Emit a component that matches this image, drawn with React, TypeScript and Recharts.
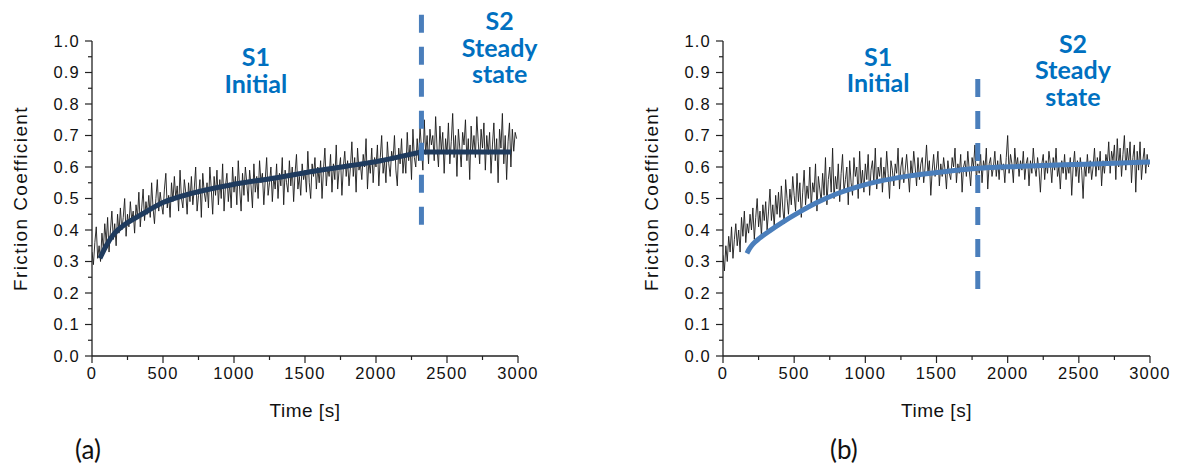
import React from 'react';
import { LineChart, Line, XAxis, YAxis, ReferenceLine, ReferenceDot } from 'recharts';

// sampling step of the raw friction traces [s]
const STEP = 10;

// (a) raw friction coefficient, one value every 10 s from t = 0
const rawA = [
  0.33, 0.29, 0.36, 0.41, 0.31, 0.35, 0.30, 0.39, 0.34, 0.42,
  0.36, 0.44, 0.33, 0.40, 0.46, 0.37, 0.42, 0.35, 0.45, 0.39,
  0.47, 0.40, 0.44, 0.50, 0.38, 0.45, 0.41, 0.49, 0.43, 0.46,
  0.39, 0.48, 0.44, 0.52, 0.41, 0.47, 0.53, 0.43, 0.49, 0.45,
  0.51, 0.44, 0.55, 0.47, 0.42, 0.50, 0.56, 0.46, 0.52, 0.48,
  0.45, 0.53, 0.58, 0.47, 0.51, 0.44, 0.55, 0.49, 0.57, 0.50,
  0.54, 0.46, 0.59, 0.50, 0.47, 0.56, 0.52, 0.45, 0.55, 0.49,
  0.57, 0.48, 0.53, 0.60, 0.46, 0.51, 0.56, 0.44, 0.58, 0.52,
  0.49, 0.55, 0.47, 0.60, 0.53, 0.45, 0.57, 0.51, 0.59, 0.48,
  0.56, 0.50, 0.61, 0.46, 0.54, 0.58, 0.49, 0.55, 0.47, 0.60,
  0.52, 0.57, 0.48, 0.62, 0.53, 0.46, 0.58, 0.51, 0.60, 0.55,
  0.49, 0.59, 0.54, 0.47, 0.61, 0.52, 0.57, 0.50, 0.62, 0.55,
  0.58, 0.48, 0.56, 0.63, 0.51, 0.55, 0.60, 0.49, 0.57, 0.53,
  0.61, 0.50, 0.58, 0.54, 0.63, 0.48, 0.59, 0.55, 0.52, 0.62,
  0.54, 0.60, 0.49, 0.58, 0.64, 0.53, 0.57, 0.51, 0.61, 0.56,
  0.59, 0.52, 0.65, 0.55, 0.50, 0.61, 0.57, 0.63, 0.53, 0.60,
  0.55, 0.62, 0.50, 0.59, 0.66, 0.54, 0.60, 0.57, 0.64, 0.52,
  0.61, 0.56, 0.67, 0.53, 0.59, 0.63, 0.51, 0.60, 0.65, 0.57,
  0.62, 0.54, 0.60, 0.68, 0.57, 0.63, 0.52, 0.66, 0.59, 0.61,
  0.56, 0.64, 0.60, 0.69, 0.53, 0.62, 0.58, 0.66, 0.55, 0.63,
  0.60, 0.67, 0.54, 0.63, 0.70, 0.58, 0.62, 0.55, 0.68, 0.61,
  0.57, 0.65, 0.62, 0.70, 0.59, 0.54, 0.66, 0.61, 0.69, 0.58,
  0.64, 0.58, 0.71, 0.62, 0.67, 0.56, 0.72, 0.63, 0.60, 0.69,
  0.62, 0.73, 0.66, 0.59, 0.75, 0.64, 0.70, 0.61, 0.72, 0.67,
  0.70, 0.62, 0.76, 0.66, 0.60, 0.73, 0.65, 0.71, 0.58, 0.69,
  0.64, 0.74, 0.61, 0.68, 0.77, 0.63, 0.70, 0.57, 0.72, 0.66,
  0.60, 0.71, 0.67, 0.75, 0.62, 0.69, 0.56, 0.73, 0.65, 0.70,
  0.63, 0.76, 0.68, 0.61, 0.72, 0.66, 0.74, 0.59, 0.70, 0.64,
  0.71, 0.58, 0.67, 0.74, 0.62, 0.69, 0.55, 0.72, 0.66, 0.77,
  0.61, 0.70, 0.56, 0.68, 0.74, 0.60, 0.72, 0.65, 0.71, 0.69,
];

// (b) raw friction coefficient, one value every 10 s from t = 0
const rawB = [
  0.32, 0.27, 0.35, 0.30, 0.38, 0.33, 0.41, 0.31, 0.37, 0.42,
  0.35, 0.40, 0.33, 0.44, 0.38, 0.46, 0.36, 0.42, 0.39, 0.45,
  0.40, 0.47, 0.37, 0.44, 0.50, 0.41, 0.46, 0.38, 0.48, 0.43,
  0.49, 0.40, 0.46, 0.53, 0.43, 0.48, 0.41, 0.51, 0.45, 0.52,
  0.44, 0.54, 0.47, 0.42, 0.56, 0.50, 0.45, 0.53, 0.48, 0.57,
  0.51, 0.46, 0.58, 0.49, 0.55, 0.44, 0.52, 0.59, 0.48, 0.54,
  0.50, 0.60, 0.47, 0.55, 0.52, 0.61, 0.46, 0.57, 0.53, 0.49,
  0.58, 0.51, 0.63, 0.48, 0.56, 0.60, 0.52, 0.66, 0.50, 0.57,
  0.53, 0.61, 0.49, 0.58, 0.64, 0.52, 0.56, 0.60, 0.48, 0.62,
  0.55, 0.51, 0.63, 0.57, 0.60, 0.50, 0.65, 0.54, 0.59, 0.52,
  0.61, 0.56, 0.64, 0.51, 0.59, 0.62, 0.55, 0.66, 0.53, 0.60,
  0.57, 0.63, 0.52, 0.60, 0.56, 0.65, 0.58, 0.50, 0.62, 0.59,
  0.54, 0.61, 0.58, 0.66, 0.53, 0.60, 0.63, 0.55, 0.59, 0.64,
  0.58, 0.52, 0.62, 0.57, 0.65, 0.60, 0.54, 0.63, 0.56, 0.61,
  0.63, 0.55, 0.60, 0.67, 0.58, 0.62, 0.51, 0.59, 0.64, 0.57,
  0.60, 0.65, 0.54, 0.61, 0.57, 0.63, 0.59, 0.53, 0.62, 0.58,
  0.56, 0.63, 0.60, 0.66, 0.55, 0.61, 0.58, 0.64, 0.52, 0.60,
  0.62, 0.57, 0.65, 0.59, 0.54, 0.63, 0.60, 0.67, 0.56, 0.61,
  0.58, 0.64, 0.55, 0.62, 0.59, 0.66, 0.53, 0.61, 0.63, 0.57,
  0.60, 0.65, 0.57, 0.62, 0.56, 0.64, 0.59, 0.61, 0.55, 0.63,
  0.70, 0.58, 0.64, 0.61, 0.55, 0.66, 0.60, 0.63, 0.57, 0.62,
  0.59, 0.65, 0.56, 0.61, 0.63, 0.54, 0.62, 0.58, 0.66, 0.60,
  0.57, 0.63, 0.59, 0.52, 0.61, 0.64, 0.56, 0.62, 0.58, 0.65,
  0.61, 0.55, 0.63, 0.59, 0.66, 0.57, 0.60, 0.53, 0.62, 0.58,
  0.64, 0.56, 0.61, 0.58, 0.63, 0.51, 0.60, 0.65, 0.57, 0.62,
  0.55, 0.63, 0.59, 0.50, 0.61, 0.57, 0.64, 0.58, 0.62, 0.56,
  0.60, 0.66, 0.57, 0.63, 0.59, 0.65, 0.54, 0.62, 0.58, 0.64,
  0.61, 0.68, 0.58, 0.65, 0.62, 0.67, 0.56, 0.69, 0.60, 0.66,
  0.57, 0.64, 0.70, 0.59, 0.66, 0.61, 0.68, 0.55, 0.63, 0.67,
  0.52, 0.65, 0.59, 0.68, 0.56, 0.62, 0.66, 0.58, 0.64, 0.60,
];

// fitted trend curves [time s, coefficient]
const fitA: [number, number][] = [
  [56, 0.31], [100, 0.35], [150, 0.385], [200, 0.407], [260, 0.426], [340, 0.447],
  [500, 0.487], [700, 0.516], [1000, 0.545], [1300, 0.566], [1500, 0.582],
  [1800, 0.603], [2000, 0.617], [2160, 0.632], [2320, 0.648],
];
const fitAFlat: [number, number][] = [[2320, 0.648], [2950, 0.648]];
const fitB: [number, number][] = [
  [168, 0.326], [185, 0.34], [210, 0.355], [260, 0.375], [330, 0.398], [420, 0.425],
  [530, 0.455], [660, 0.487], [800, 0.515], [950, 0.538], [1100, 0.555], [1300, 0.571],
  [1550, 0.585], [1800, 0.596], [2100, 0.602], [2400, 0.607], [2700, 0.611], [3000, 0.616],
];

// stage boundary: [time, dash top, dash bottom]
const boundaryA = [2320, 1.083, 0.407];
const boundaryB = [1790, 0.879, 0.2];

// stage labels: [time, y of first line, text lines]
const stagesA: [number, number, string[]][] = [
  [1154, 0.949, ['S1', 'Initial']],
  [2871, 1.063, ['S2', 'Steady', 'state']],
];
const stagesB: [number, number, string[]][] = [
  [1090, 0.95, ['S1', 'Initial']],
  [2459, 0.992, ['S2', 'Steady', 'state']],
];

const xTicks = [0, 250, 500, 750, 1000, 1250, 1500, 1750, 2000, 2250, 2500, 2750, 3000];
const yTicks = [0, 0.05, 0.1, 0.15, 0.2, 0.25, 0.3, 0.35, 0.4, 0.45, 0.5, 0.55, 0.6, 0.65, 0.7, 0.75, 0.8, 0.85, 0.9, 0.95, 1.0];

const FONT = '"Liberation Sans", Arial, sans-serif';
const TICK_SIZE = 7;
const TICK_GAP = 5;

function YTick(props: any) {
  const { x, y, payload } = props;
  const v = payload.value;
  const major = Math.abs(v * 10 - Math.round(v * 10)) < 1e-6;
  const ax = x + TICK_SIZE + TICK_GAP;
  return (
    <g>
      <line x1={ax - (major ? TICK_SIZE : 4)} x2={ax} y1={y} y2={y} stroke="#222" strokeWidth={1.2} />
      {major && (
        <text x={x} y={y} dy="0.355em" textAnchor="end" fontFamily={FONT} fontSize={16.5} letterSpacing={1.2} fill="#111">
          {v.toFixed(1)}
        </text>
      )}
    </g>
  );
}

function XTick(props: any) {
  const { x, y, payload } = props;
  const v = payload.value;
  const major = v % 500 === 0;
  const ay = y - TICK_SIZE - 4;
  return (
    <g>
      <line x1={x} x2={x} y1={ay} y2={ay + (major ? TICK_SIZE : 4)} stroke="#222" strokeWidth={1.2} />
      {major && (
        <text x={x} y={y} dy="0.71em" textAnchor="middle" fontFamily={FONT} fontSize={16.5} letterSpacing={1.2} fill="#111">
          {v}
        </text>
      )}
    </g>
  );
}

function StageLabel(props: any) {
  const { viewBox, lines } = props;
  const cx = viewBox.x + viewBox.width / 2;
  const cy = viewBox.y + viewBox.height / 2;
  return (
    <text textAnchor="middle" fill="#0070C0" fontFamily="Lato, 'Open Sans', sans-serif" fontWeight="bold" fontSize={25}>
      {lines.map((l: string, i: number) => (
        <tspan key={i} x={cx} y={cy + i * 26.5} dy="0.36em">{l}</tspan>
      ))}
    </text>
  );
}

interface PanelProps {
  raw: number[];
  fits: [number, number][][];
  fitColor: string;
  boundary: number[];
  stages: [number, number, string[]][];
  marginLeft: number;
  marginRight: number;
}

function Panel({ raw, fits, fitColor, boundary, stages, marginLeft, marginRight }: PanelProps) {
  const rawData = raw.map((v, i) => ({ t: i * STEP, v }));
  return (
    <LineChart width={589} height={467} margin={{ top: 41, right: marginRight, bottom: 81, left: marginLeft }}>
      <XAxis
        type="number"
        dataKey="t"
        domain={[0, 3000]}
        ticks={xTicks}
        interval={0}
        allowDataOverflow
        height={30}
        tickSize={TICK_SIZE}
        tickMargin={4}
        tickLine={false}
        tick={<XTick />}
        axisLine={{ stroke: '#222', strokeWidth: 1.3 }}
        label={{
          content: ({ viewBox }: any) => (
            <text
              x={viewBox.x + viewBox.width / 2}
              y={viewBox.y + 54}
              dy="0.36em"
              textAnchor="middle"
              fontFamily={FONT}
              fontSize={19}
              letterSpacing={0.5}
              fill="#111"
            >
              Time [s]
            </text>
          ),
        }}
      />
      <YAxis
        type="number"
        domain={[0, 1]}
        ticks={yTicks}
        interval={0}
        allowDataOverflow
        width={60}
        tickSize={TICK_SIZE}
        tickMargin={TICK_GAP}
        tickLine={false}
        tick={<YTick />}
        axisLine={{ stroke: '#222', strokeWidth: 1.3 }}
        label={{
          content: ({ viewBox }: any) => {
            const cx = viewBox.x + viewBox.width - 72;
            const cy = viewBox.y + viewBox.height / 2;
            return (
              <text
                x={cx}
                y={cy}
                dy="0.36em"
                textAnchor="middle"
                transform={`rotate(-90 ${cx} ${cy})`}
                fontFamily={FONT}
                fontSize={19}
                letterSpacing={1.4}
                fill="#111"
              >
                Friction Coefficient
              </text>
            );
          },
        }}
      />
      <Line data={rawData} dataKey="v" type="linear" stroke="#1a1a1a" strokeWidth={0.9} dot={false} isAnimationActive={false} />
      {fits.map((fit, i) => (
        <Line
          key={i}
          data={fit.map(([t, v]) => ({ t, v }))}
          dataKey="v"
          type="monotone"
          stroke={fitColor}
          strokeWidth={5}
          dot={false}
          isAnimationActive={false}
        />
      ))}
      <ReferenceLine
        segment={[{ x: boundary[0], y: boundary[1] }, { x: boundary[0], y: boundary[2] }]}
        stroke="#4A7EBB"
        strokeWidth={5}
        strokeDasharray="18 14"
        ifOverflow="visible"
      />
      {stages.map(([t, y, lines], i) => (
        <ReferenceDot
          key={i}
          x={t}
          y={y}
          r={0}
          fill="none"
          stroke="none"
          ifOverflow="visible"
          label={<StageLabel lines={lines} />}
        />
      ))}
    </LineChart>
  );
}

const captionStyle: React.CSSProperties = {
  position: 'absolute',
  top: 433,
  fontFamily: "Lato, 'Open Sans', sans-serif",
  fontSize: 26,
  color: '#111',
  lineHeight: '32px',
};

export default function App() {
  return (
    <div style={{ position: 'absolute', left: 0, top: 0, width: 1178, height: 467, background: '#fff', overflow: 'hidden' }}>
      <div style={{ position: 'absolute', left: 0, top: 0 }}>
        <Panel raw={rawA} fits={[fitA, fitAFlat]} fitColor="#1F3B5E" boundary={boundaryA} stages={stagesA} marginLeft={32} marginRight={71} />
      </div>
      <div style={{ position: 'absolute', left: 589, top: 0 }}>
        <Panel raw={rawB} fits={[fitB]} fitColor="#4A7EBB" boundary={boundaryB} stages={stagesB} marginLeft={74} marginRight={28} />
      </div>
      <div style={{ ...captionStyle, left: 75 }}>(a)</div>
      <div style={{ ...captionStyle, left: 830 }}>(b)</div>
    </div>
  );
}
